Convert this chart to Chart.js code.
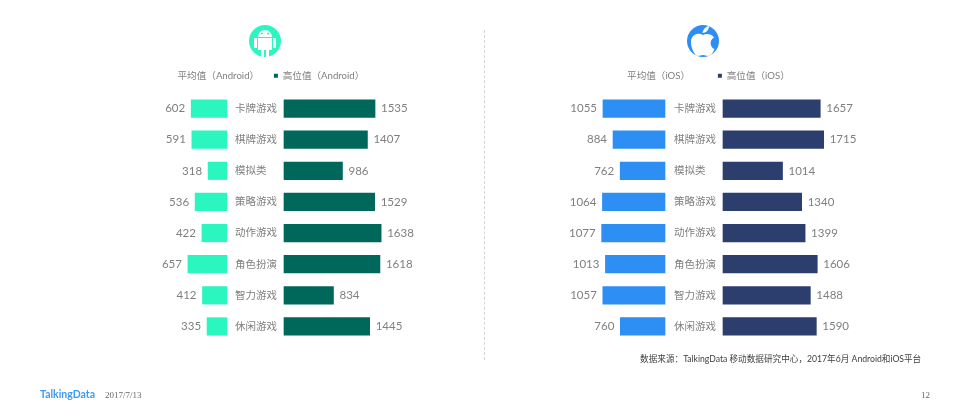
<!DOCTYPE html>
<html>
<head>
<meta charset="utf-8">
<style>
html, body { margin: 0; padding: 0; background: #fff; width: 968px; height: 419px; overflow: hidden; }
.box { position: absolute; top: 0; height: 419px; }
.txt { position: absolute; white-space: nowrap; }
#divider { position: absolute; left: 484px; top: 30px; height: 330px; border-left: 1px dashed #d4d4d4; }
</style>
<script src="https://cdn.jsdelivr.net/npm/chart.js@4"></script>
</head>
<body>
<div class="box" style="left:0;width:533px"><canvas id="chart_android"></canvas></div>
<div class="box" style="left:484px;width:440px"><canvas id="chart_ios"></canvas></div>
<div id="divider"></div>

<svg class="txt" style="left:249px;top:25px" width="32" height="32" viewBox="0 0 32 32">
  <circle cx="16" cy="16" r="16" fill="#2cf6c0"/>
  <path d="M9 12 a7 7 0 0 1 14 0 Z" fill="#fff"/>
  <circle cx="13" cy="8.5" r="1" fill="#2cf6c0"/><circle cx="19" cy="8.5" r="1" fill="#2cf6c0"/>
  <rect x="9" y="13" width="14" height="12" fill="#fff"/>
  <rect x="5" y="13" width="3" height="10" fill="#fff"/>
  <rect x="24" y="13" width="3" height="10" fill="#fff"/>
  <rect x="12" y="25" width="3" height="7" fill="#fff"/>
  <rect x="17" y="25" width="3" height="7" fill="#fff"/>
</svg>
<svg class="txt" style="left:687px;top:25px" width="32" height="32" viewBox="0 0 32 32">
  <circle cx="16" cy="16" r="16" fill="#2d8ff3"/>
  <path d="M16 10 C12 7.5 5 8.5 4 16 C3.5 23 8 31 11 31 C13 31 14 30 16 30 C18 30 19 31 21 31 C24 31 26.5 27 27.5 24 C23 22.5 22 15 27 12.5 C24 8.5 19 8.5 16 10 Z" fill="#fff"/>
  <path d="M15.5 8 C16 4 19 1.5 22 1 C22 5 19 8 15.5 8 Z" fill="#fff"/>
</svg>

<div class="txt" style="left:640px;top:352px;font:8.65px 'Lato','Noto Sans CJK SC';color:#3f3f3f">数据来源：TalkingData 移动数据研究中心，2017年6月 Android和iOS平台</div>
<div class="txt" style="left:40px;top:388px;font:bold 10.5px 'Lato','Noto Sans CJK SC';color:#3f9bf0">TalkingData</div>
<div class="txt" style="left:105px;top:390px;font:9px 'Liberation Serif';color:#666">2017/7/13</div>
<div class="txt" style="left:921px;top:390px;font:9px 'Liberation Serif';color:#666">12</div>

<script>
const categories = ['卡牌游戏', '棋牌游戏', '模拟类', '策略游戏', '动作游戏', '角色扮演', '智力游戏', '休闲游戏'];
const androidAvg = [602, 591, 318, 536, 422, 657, 412, 335];
const androidHigh = [1535, 1407, 986, 1529, 1638, 1618, 834, 1445];
const iosAvg = [1055, 884, 762, 1064, 1077, 1013, 1057, 760];
const iosHigh = [1657, 1715, 1014, 1340, 1399, 1606, 1488, 1590];

const FONT = "'Lato', 'Noto Sans CJK SC', sans-serif";
const GREY = '#7f7f7f';

// writes the value next to the end of every bar
const valueLabels = {
    id: 'valueLabels',
    afterDatasetsDraw(chart) {
        const ctx = chart.ctx;
        ctx.save();
        ctx.font = '11.5px ' + FONT;
        ctx.fillStyle = GREY;
        ctx.textBaseline = 'middle';
        chart.data.datasets.forEach((ds, i) => {
            ctx.textAlign = i == 0 ? 'right' : 'left';
            chart.getDatasetMeta(i).data.forEach((bar, j) => {
                ctx.fillText(ds.data[j], bar.x + (i == 0 ? -6 : 6), bar.y);
            });
        });
        ctx.restore();
    }
};

function makePanel(id, name, avg, high, avgColor, highColor, width, avgZero, highZero, avgScale, highScale, legendGap) {
    return new Chart(document.getElementById(id), {
        type: 'bar',
        data: {
            labels: categories,
            datasets: [
                { label: '平均值（' + name + '）', data: avg, xAxisID: 'xAvg', backgroundColor: avgColor, grouped: false, barThickness: 17.5 },
                { label: '高位值（' + name + '）', data: high, xAxisID: 'xHigh', backgroundColor: highColor, grouped: false, barThickness: 17.5 }
            ]
        },
        options: {
            indexAxis: 'y',
            responsive: true,
            maintainAspectRatio: false,
            animation: false,
            // legend height grows with its gap, so take that off the top
            layout: { padding: { top: 71 - legendGap, bottom: 77 } },
            plugins: {
                tooltip: { enabled: false },
                legend: {
                    position: 'top',
                    onClick: null,
                    labels: {
                        boxWidth: 4,
                        boxHeight: 4,
                        padding: legendGap,
                        color: GREY,
                        font: { family: FONT, size: 9.6 },
                        generateLabels(chart) {
                            return chart.data.datasets.map((ds, i) => ({
                                text: ds.label,
                                datasetIndex: i,
                                fontColor: GREY,
                                lineWidth: 0,
                                // the average item has no swatch in the original
                                fillStyle: i == 0 ? 'rgba(0,0,0,0)' : highColor,
                                strokeStyle: 'rgba(0,0,0,0)'
                            }));
                        }
                    }
                }
            },
            scales: {
                xAvg: {
                    axis: 'x', type: 'linear', display: false, reverse: true, position: 'bottom',
                    min: -(width - avgZero) / avgScale,
                    max: avgZero / avgScale
                },
                xHigh: {
                    axis: 'x', type: 'linear', position: 'top',
                    min: -highZero / highScale,
                    max: (width - highZero) / highScale,
                    grid: { display: false, drawTicks: false },
                    border: { display: false },
                    ticks: { display: false },
                    // small spacer between the legend and the bars
                    afterFit(scale) { scale.height = 2.4; }
                },
                y: {
                    axis: 'y',
                    type: 'category',
                    position: { xHigh: -7 / highScale },
                    grid: { display: false, drawTicks: false },
                    border: { display: false },
                    ticks: {
                        color: GREY,
                        autoSkip: false,
                        font: { family: FONT, size: 10.5 },
                        // labels sit flush left: pad short ones to four characters
                        callback(v) { return this.getLabelForValue(v).padEnd(4, '\u3000'); }
                    }
                }
            }
        },
        plugins: [valueLabels]
    });
}

makePanel('chart_android', 'Android', androidAvg, androidHigh, '#2cf6c0', '#00675b', 533, 227, 284, 0.0595, 0.0593, 14.8);
makePanel('chart_ios', 'iOS', iosAvg, iosHigh, '#2d8ff3', '#2c3e6d', 440, 181, 239, 0.0588, 0.0587, 27.8);
</script>
</body>
</html>
